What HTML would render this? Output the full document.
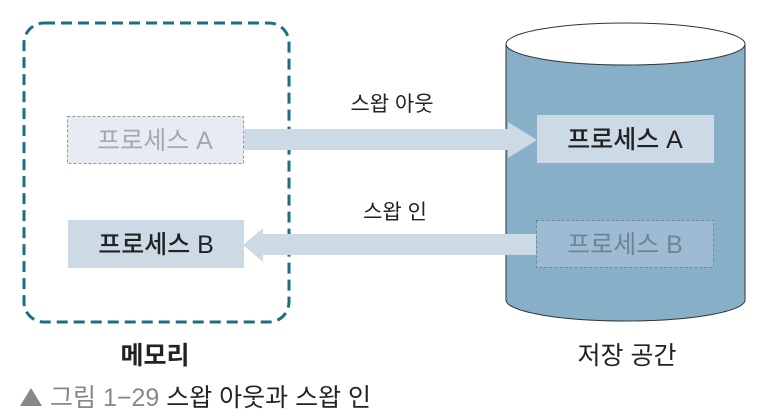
<!DOCTYPE html>
<html><head><meta charset="utf-8"><style>
body{margin:0;background:#fff;width:772px;height:414px;overflow:hidden}
text{font-family:"Liberation Sans","Noto Sans CJK KR",sans-serif}
</style></head><body>
<svg width="772" height="414" viewBox="0 0 772 414">
<rect x="24" y="23" width="265" height="299" rx="20" fill="none" stroke="#1c6e85" stroke-width="3" stroke-dasharray="11,6"/>
<path d="M506 44 L506 300 A119.5 21 0 0 0 745 300 L745 44 Z" fill="#88afc8" stroke="#333" stroke-width="1"/>
<ellipse cx="625.5" cy="44" rx="119.5" ry="21" fill="#fff" stroke="#333" stroke-width="1"/>
<rect x="67.5" y="116.5" width="176" height="47" fill="#e6ecf2" stroke="#999" stroke-dasharray="3,2"/>
<text x="155" y="149" font-size="25" fill="#a3a9ae" text-anchor="middle">프로세스 A</text>
<rect x="68" y="220" width="176" height="48" fill="#ccdae6"/>
<text x="156" y="253" font-size="25" fill="#222" text-anchor="middle" font-weight="500">프로세스 B</text>
<rect x="537" y="115" width="177" height="48" fill="#ccdae6"/>
<text x="625" y="148" font-size="25" fill="#222" text-anchor="middle" font-weight="500">프로세스 A</text>
<rect x="536.5" y="220.5" width="177" height="47" fill="#9dbbd2" stroke="#6e8aa0" stroke-dasharray="3,2"/>
<text x="625" y="253" font-size="25" fill="#6f8494" text-anchor="middle">프로세스 B</text>
<polygon points="244,129 508,129 508,122 537,140 508,158 508,150 244,150" fill="#ccdae6"/>
<polygon points="536,234 263,234 263,228 243,245 263,262 263,255 536,255" fill="#ccdae6"/>
<text x="392" y="111" font-size="21" fill="#222" text-anchor="middle">스왑 아웃</text>
<text x="395" y="219" font-size="21" fill="#222" text-anchor="middle">스왑 인</text>
<text x="155" y="364" font-size="25" fill="#222" text-anchor="middle" font-weight="bold">메모리</text>
<text x="627" y="364" font-size="25" fill="#222" text-anchor="middle">저장 공간</text>
<polygon points="20,406 42,406 31,388" fill="#888"/>
<text x="50" y="406" font-size="25" fill="#888">그림 1−29 <tspan fill="#222">스왑 아웃과 스왑 인</tspan></text>
</svg>
</body></html>
